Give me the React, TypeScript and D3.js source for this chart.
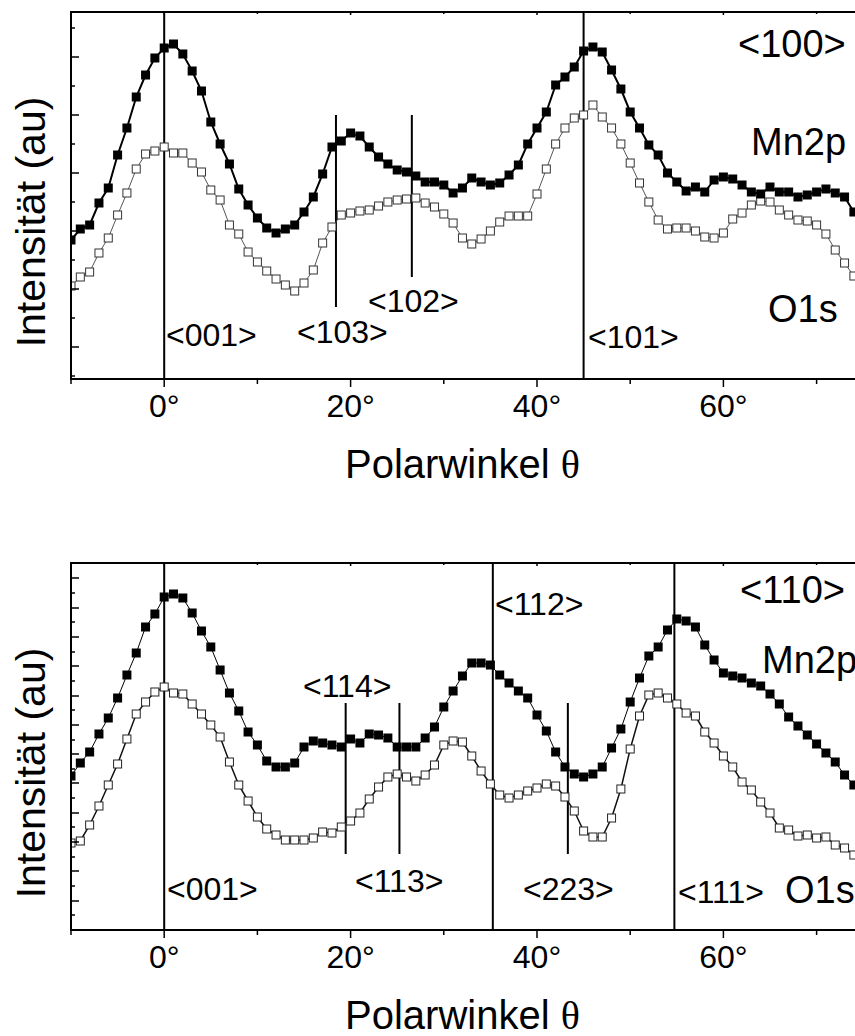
import React from 'react';
import * as d3 from 'd3';

// Polar angle grid (degrees), one sample per degree
const ANGLE_FIRST = -10;
const ANGLE_LAST = 74;
const polarAngles: number[] = d3.range(ANGLE_FIRST, ANGLE_LAST + 1);

// <100> azimuth, intensities in arbitrary units
const mn2p100 = [
  139, 150, 154, 176, 191, 224, 251, 282, 304, 321,
  331, 335, 325, 308, 288, 257, 235, 215, 190, 174,
  161, 151, 146, 150, 154, 167, 182, 205, 232, 238,
  246, 243, 232, 222, 215, 209, 207, 203, 197, 197,
  194, 186, 191, 201, 197, 194, 196, 204, 214, 235,
  251, 267, 294, 302, 312, 328, 332, 327, 309, 290,
  267, 251, 234, 224, 206, 197, 188, 192, 187, 199,
  202, 200, 194, 187, 185, 192, 187, 187, 182, 184,
  187, 190, 186, 182, 167,
];
const o1s100 = [
  93, 102, 107, 126, 141, 164, 186, 210, 225, 228,
  232, 226, 226, 216, 207, 189, 179, 154, 145, 127,
  117, 108, 100, 94, 88, 96, 109, 136, 152, 164,
  166, 168, 169, 173, 177, 179, 180, 181, 176, 172,
  165, 156, 141, 135, 140, 148, 157, 163, 163, 163,
  185, 210, 235, 251, 261, 264, 274, 262, 251, 235,
  216, 196, 177, 159, 150, 151, 151, 148, 142, 141,
  146, 160, 166, 174, 178, 177, 169, 164, 159, 158,
  154, 145, 129, 116, 103,
];

// <110> azimuth
const mn2p110 = [
  154, 167, 178, 196, 212, 232, 255, 277, 303, 316,
  333, 336, 332, 317, 299, 283, 260, 237, 219, 198,
  185, 169, 163, 163, 167, 183, 189, 187, 185, 183,
  191, 187, 196, 195, 192, 183, 183, 183, 192, 203,
  223, 239, 254, 267, 267, 265, 255, 247, 239, 232,
  215, 199, 178, 163, 156, 153, 156, 163, 182, 201,
  228, 252, 274, 283, 300, 311, 309, 303, 285, 270,
  257, 254, 252, 247, 244, 236, 226, 213, 204, 195,
  186, 177, 168, 155, 145,
];
const o1s110 = [
  87, 89, 105, 124, 145, 166, 191, 216, 228, 238,
  243, 237, 236, 226, 216, 205, 193, 168, 145, 129,
  113, 101, 95, 90, 90, 90, 92, 98, 97, 103,
  109, 117, 131, 143, 153, 156, 153, 149, 155, 165,
  185, 189, 188, 174, 159, 146, 135, 132, 135, 139,
  142, 146, 144, 133, 119, 99, 93, 93, 112, 141,
  181, 214, 235, 237, 232, 226, 217, 214, 198, 187,
  174, 163, 148, 140, 128, 117, 102, 100, 94, 95,
  92, 93, 85, 82, 75,
];

// Axis ticks
const xMajorTicks = [0, 20, 40, 60];
const xMinorTicks = [-10, 10, 30, 50, 70];
const xTickLabels = ['0°', '20°', '40°', '60°'];
const yMajor100 = [32, 90, 148, 206, 264, 322];
const yMinor100 = [3, 61, 119, 177, 235, 293, 351];
const yMajor110 = [29, 59, 88, 117, 147, 176, 205, 234, 264, 293, 322, 352];
const yMinor110 = [15, 44, 73, 103, 132, 161, 190, 220, 249, 278, 308, 337];

// Crystal directions (polar angle in degrees)
const dirLabels100 = ['<001>', '<103>', '<102>', '<101>'];
const dirAngles100 = [0, 18.43, 26.57, 45];
const dirLabels110 = ['<001>', '<114>', '<113>', '<112>', '<223>', '<111>'];
const dirAngles110 = [0, 19.47, 25.24, 35.26, 43.31, 54.74];

const FONT = "'Liberation Sans', Arial, Helvetica, sans-serif";
const PLOT_LEFT = 71;
const PX_PER_DEG = 9.32;
const X_MIN = -10;
const X_MAX = 80;
const PANEL_H = 367;
const Y_MAX = 367;

type DirLayout = { span: [number, number] | null; lx: number; ly: number };
type TextLayout = { text: string; x: number; y: number; size: number };

interface PanelProps {
  id: string;
  top: number;
  mn2p: number[];
  o1s: number[];
  dirLabels: string[];
  dirAngles: number[];
  dirLayout: DirLayout[];
  yMajor: number[];
  yMinor: number[];
  notes: TextLayout[];
  mnWidth: number;
  oWidth: number;
  oColor: string;
  oStroke: string;
}

function Panel(p: PanelProps) {
  const x = d3
    .scaleLinear()
    .domain([X_MIN, X_MAX])
    .range([PLOT_LEFT, PLOT_LEFT + (X_MAX - X_MIN) * PX_PER_DEG]);
  const y = d3.scaleLinear().domain([0, Y_MAX]).range([p.top + PANEL_H, p.top]);
  const bottom = p.top + PANEL_H;
  const right = x(X_MAX);

  const line = d3
    .line<number>()
    .x((_, i) => x(polarAngles[i]))
    .y((d) => y(d));

  const FS = 9; // filled square size
  const OS = 8; // open square size

  return (
    <g>
      <defs>
        <clipPath id={`clip-${p.id}`}>
          <rect x={PLOT_LEFT} y={p.top} width={right - PLOT_LEFT} height={PANEL_H} />
        </clipPath>
      </defs>

      {/* direction markers */}
      {p.dirAngles.map((a, i) => {
        const lay = p.dirLayout[i];
        const y1 = lay.span ? y(lay.span[1]) : p.top;
        const y0 = lay.span ? y(lay.span[0]) : bottom;
        return (
          <g key={`dir-${i}`}>
            <line x1={x(a)} x2={x(a)} y1={y1} y2={y0} stroke="#000" strokeWidth={2} />
            <text x={lay.lx} y={p.top + lay.ly} fontSize={32} fontFamily={FONT} fill="#000">
              {p.dirLabels[i]}
            </text>
          </g>
        );
      })}

      <g clipPath={`url(#clip-${p.id})`}>
        {/* O 1s: open squares */}
        <path d={line(p.o1s) || ''} fill="none" stroke={p.oColor} strokeWidth={p.oWidth} />
        {p.o1s.map((v, i) => (
          <rect
            key={`o-${i}`}
            x={x(polarAngles[i]) - OS / 2}
            y={y(v) - OS / 2}
            width={OS}
            height={OS}
            fill="#fff"
            stroke={p.oStroke}
            strokeWidth={1}
          />
        ))}
        {/* Mn 2p: filled squares */}
        <path d={line(p.mn2p) || ''} fill="none" stroke="#000" strokeWidth={p.mnWidth} />
        {p.mn2p.map((v, i) => (
          <rect
            key={`m-${i}`}
            x={x(polarAngles[i]) - FS / 2}
            y={y(v) - FS / 2}
            width={FS}
            height={FS}
            fill="#000"
          />
        ))}
      </g>

      {/* frame */}
      <rect
        x={PLOT_LEFT}
        y={p.top}
        width={right - PLOT_LEFT}
        height={PANEL_H}
        fill="none"
        stroke="#000"
        strokeWidth={2}
      />

      {/* y ticks (inward) */}
      {p.yMajor.map((v) => (
        <line key={`ym-${v}`} x1={PLOT_LEFT} x2={PLOT_LEFT + 8} y1={y(v)} y2={y(v)} stroke="#000" strokeWidth={1.5} />
      ))}
      {p.yMinor.map((v) => (
        <line key={`yn-${v}`} x1={PLOT_LEFT} x2={PLOT_LEFT + 4} y1={y(v)} y2={y(v)} stroke="#000" strokeWidth={1.5} />
      ))}

      {/* x ticks */}
      {xMajorTicks.map((v, i) => (
        <g key={`xm-${v}`}>
          <line x1={x(v)} x2={x(v)} y1={bottom} y2={bottom + 8} stroke="#000" strokeWidth={1.5} />
          <line x1={x(v)} x2={x(v)} y1={p.top} y2={p.top + 3} stroke="#000" strokeWidth={1.5} />
          <text
            x={x(v)}
            y={bottom + 38}
            fontSize={32}
            fontFamily={FONT}
            textAnchor="middle"
            fill="#000"
          >
            {xTickLabels[i]}
          </text>
        </g>
      ))}
      {xMinorTicks.map((v) => (
        <g key={`xn-${v}`}>
          <line x1={x(v)} x2={x(v)} y1={bottom} y2={bottom + 5} stroke="#000" strokeWidth={1.5} />
          <line x1={x(v)} x2={x(v)} y1={p.top} y2={p.top + 2} stroke="#000" strokeWidth={1.5} />
        </g>
      ))}

      {/* axis titles */}
      <text x={345} y={p.top + 466} fontSize={40} fontFamily={FONT} fill="#000">
        Polarwinkel{' '}
        <tspan fontFamily="'Liberation Serif', 'Times New Roman', serif">θ</tspan>
      </text>
      <text
        transform={`translate(45,${p.top + 210}) rotate(-90)`}
        fontSize={41}
        fontFamily={FONT}
        textAnchor="middle"
        fill="#000"
      >
        Intensität (au)
      </text>

      {/* annotations */}
      {p.notes.map((n) => (
        <text key={n.text} x={n.x} y={p.top + n.y} fontSize={n.size} fontFamily={FONT} fill="#000">
          {n.text}
        </text>
      ))}
    </g>
  );
}

export default function App() {
  const layout100: DirLayout[] = [
    { span: null, lx: 166, ly: 334 },
    { span: [72, 264], lx: 297, ly: 331 },
    { span: [102, 264], lx: 368, ly: 300 },
    { span: null, lx: 588, ly: 336 },
  ];
  const layout110: DirLayout[] = [
    { span: null, lx: 167, ly: 337 },
    { span: [76, 227], lx: 303, ly: 134 },
    { span: [76, 227], lx: 355, ly: 329 },
    { span: null, lx: 495, ly: 52 },
    { span: [76, 227], lx: 523, ly: 337 },
    { span: null, lx: 678, ly: 340 },
  ];
  return (
    <svg
      width={855}
      height={1036}
      viewBox="0 0 855 1036"
      style={{ position: 'absolute', left: 0, top: 0, background: '#fff', overflow: 'hidden' }}
    >
      <rect x={0} y={0} width={855} height={1036} fill="#fff" />
      <Panel
        id="p100"
        top={12}
        mn2p={mn2p100}
        o1s={o1s100}
        dirLabels={dirLabels100}
        dirAngles={dirAngles100}
        dirLayout={layout100}
        yMajor={yMajor100}
        yMinor={yMinor100}
        notes={[
          { text: '<100>', x: 738, y: 45, size: 38 },
          { text: 'Mn2p', x: 751, y: 143, size: 38 },
          { text: 'O1s', x: 768, y: 310, size: 38 },
        ]}
        mnWidth={2}
        oWidth={1}
        oColor="#555"
        oStroke="#333"
      />
      <Panel
        id="p110"
        top={563}
        mn2p={mn2p110}
        o1s={o1s110}
        dirLabels={dirLabels110}
        dirAngles={dirAngles110}
        dirLayout={layout110}
        yMajor={yMajor110}
        yMinor={yMinor110}
        notes={[
          { text: '<110>', x: 740, y: 40, size: 38 },
          { text: 'Mn2p', x: 762, y: 110, size: 38 },
          { text: 'O1s', x: 785, y: 340, size: 38 },
        ]}
        mnWidth={1}
        oWidth={1.5}
        oColor="#111"
        oStroke="#222"
      />
    </svg>
  );
}
